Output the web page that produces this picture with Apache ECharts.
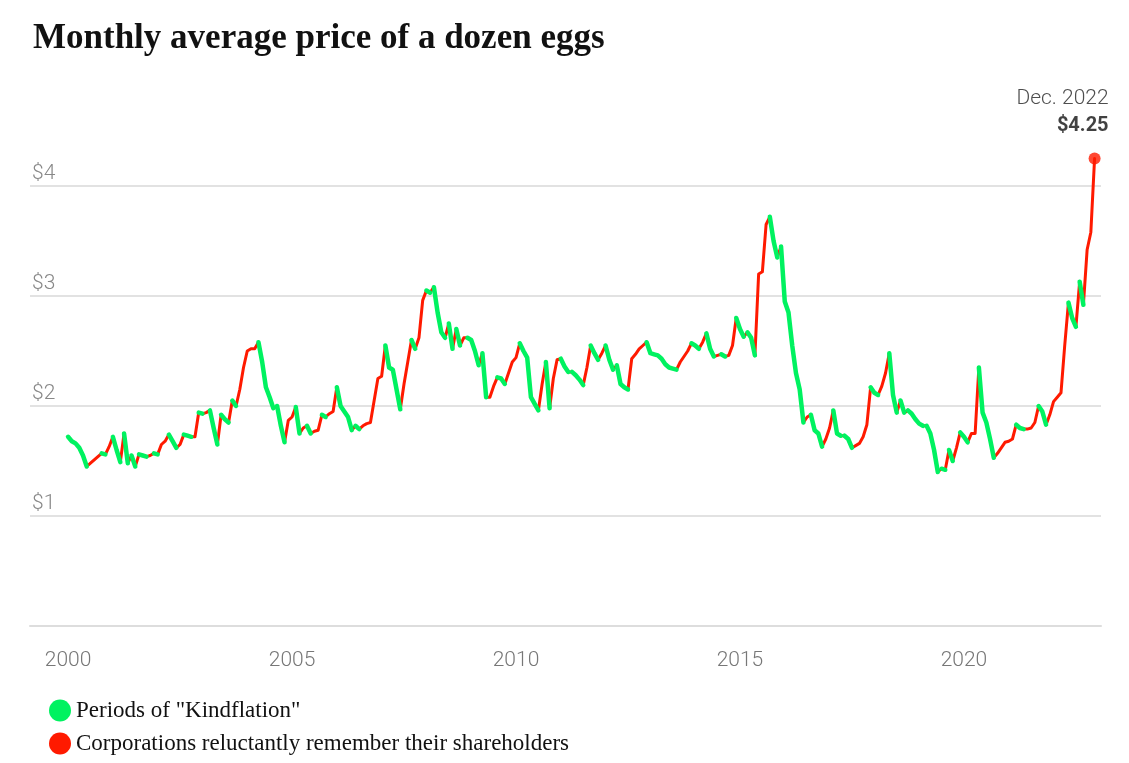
<!DOCTYPE html>
<html>
<head>
<meta charset="utf-8">
<script src="https://cdn.jsdelivr.net/npm/echarts@6/dist/echarts.min.js"></script>
<style>
  html, body { margin: 0; padding: 0; background: #fff; }
  #chart { width: 1129px; height: 763px; }
</style>
</head>
<body>
<div id="chart"></div>
<script>
// monthly prices, Jan..Dec of each year
const startYear = 2000;
const prices = [
  1.72,1.68,1.66,1.62,1.55,1.45,1.48,1.51,1.54,1.57,1.56,1.63, // 2000
  1.72,1.60,1.49,1.75,1.48,1.55,1.45,1.56,1.55,1.54,1.55,1.57, // 2001
  1.56,1.65,1.68,1.74,1.68,1.62,1.65,1.74,1.73,1.72,1.72,1.94, // 2002
  1.93,1.94,1.96,1.80,1.65,1.92,1.88,1.85,2.05,2.00,2.15,2.35, // 2003
  2.50,2.52,2.52,2.58,2.40,2.17,2.08,1.98,2.00,1.82,1.67,1.87, // 2004
  1.90,1.99,1.75,1.80,1.82,1.75,1.77,1.78,1.92,1.90,1.93,1.95, // 2005
  2.17,2.00,1.95,1.90,1.78,1.82,1.79,1.82,1.84,1.85,2.05,2.25, // 2006
  2.27,2.55,2.35,2.33,2.15,1.97,2.20,2.40,2.60,2.52,2.62,2.96, // 2007
  3.05,3.03,3.08,2.85,2.67,2.62,2.75,2.52,2.70,2.55,2.62,2.62, // 2008
  2.60,2.50,2.37,2.48,2.08,2.08,2.18,2.26,2.25,2.20,2.30,2.40, // 2009
  2.44,2.57,2.50,2.44,2.08,2.02,1.96,2.20,2.40,1.98,2.25,2.42, // 2010
  2.43,2.36,2.31,2.31,2.28,2.24,2.19,2.35,2.55,2.48,2.42,2.48, // 2011
  2.55,2.42,2.33,2.37,2.20,2.17,2.15,2.43,2.47,2.52,2.55,2.58, // 2012
  2.48,2.47,2.46,2.43,2.38,2.35,2.34,2.33,2.40,2.45,2.50,2.57, // 2013
  2.55,2.52,2.58,2.66,2.52,2.45,2.46,2.47,2.45,2.46,2.55,2.80, // 2014
  2.70,2.63,2.67,2.62,2.46,3.20,3.22,3.65,3.72,3.50,3.35,3.45, // 2015
  2.95,2.85,2.55,2.30,2.15,1.85,1.90,1.92,1.78,1.75,1.63,1.70, // 2016
  1.80,1.96,1.75,1.73,1.73,1.70,1.62,1.64,1.66,1.72,1.83,2.17, // 2017
  2.12,2.10,2.18,2.30,2.48,2.10,1.94,2.05,1.94,1.96,1.93,1.88, // 2018
  1.84,1.82,1.82,1.75,1.60,1.40,1.43,1.42,1.60,1.50,1.62,1.76, // 2019
  1.72,1.67,1.75,1.75,2.35,1.94,1.85,1.70,1.53,1.57,1.62,1.67, // 2020
  1.68,1.70,1.83,1.80,1.79,1.79,1.80,1.85,2.00,1.95,1.83,1.92, // 2021
  2.04,2.08,2.12,2.55,2.94,2.80,2.72,3.13,2.92,3.42,3.58,4.25  // 2022
];
const yearTicks = [2000, 2005, 2010, 2015, 2020];
const priceTicks = [0, 1, 2, 3, 4];
const legendNames = ['Periods of "Kindflation"', 'Corporations reluctantly remember their shareholders'];
const GREEN = '#00f260', RED = '#ff1a00';

// split the line into runs of falling (green) and rising (red) months
const runSeries = [];
let run = null;
for (let i = 1; i < prices.length; i++) {
  const down = prices[i] < prices[i - 1];
  if (!run || run.down !== down) {
    run = { down: down, data: [[startYear + (i - 1) / 12, prices[i - 1]]] };
    runSeries.push(run);
  }
  run.data.push([startYear + i / 12, prices[i]]);
}
const last = prices.length - 1;

const series = runSeries.map(r => ({
  type: 'line',
  data: r.data,
  symbol: 'none',
  silent: true,
  clip: false,
  z: r.down ? 3 : 2,
  lineStyle: { color: r.down ? GREEN : RED, width: r.down ? 4.5 : 3, cap: 'round', join: 'round' }
}));
// legend-only series
series.push({ name: legendNames[0], type: 'line', data: [], itemStyle: { color: GREEN } });
series.push({ name: legendNames[1], type: 'line', data: [], itemStyle: { color: RED } });
// end point with annotation
series.push({
  type: 'scatter',
  data: [[startYear + last / 12, prices[last]]],
  symbolSize: 12,
  clip: false,
  itemStyle: { color: RED },
  z: 5,
  label: {
    show: true,
    position: 'top',
    align: 'right',
    offset: [14, -8],
    formatter: p => '{a|Dec. 2022}\n{b|$' + p.value[1].toFixed(2) + '}',
    rich: {
      a: { fontFamily: 'Roboto', fontWeight: 300, fontSize: 21, color: '#222', align: 'right', lineHeight: 27 },
      b: { fontFamily: 'Roboto', fontWeight: 'bold', fontSize: 20, color: '#111', align: 'right', lineHeight: 27 }
    }
  }
});

const chart = echarts.init(document.getElementById('chart'));
chart.setOption({
  backgroundColor: '#fff',
  animation: false,
  title: {
    text: 'Monthly average price of a dozen eggs',
    left: 28,
    top: 16,
    textStyle: { fontFamily: 'Liberation Serif', fontWeight: 'bold', fontSize: 35, color: '#111' }
  },
  legend: {
    data: legendNames,
    orient: 'vertical',
    left: 44,
    top: 694,
    icon: 'circle',
    itemWidth: 22,
    itemHeight: 22,
    itemGap: 10,
    textStyle: { fontFamily: 'Liberation Serif', fontSize: 23, color: '#111' }
  },
  grid: { left: 30, right: 28, top: 186, bottom: 137 },
  xAxis: {
    type: 'value',
    min: 1999.15,
    max: 2023.06,
    axisLine: { show: true, lineStyle: { color: '#ddd', width: 2 } },
    axisTick: { show: false },
    splitLine: { show: false },
    axisLabel: {
      customValues: yearTicks,
      formatter: v => String(v),
      margin: 24,
      fontFamily: 'Roboto',
      fontWeight: 300,
      fontSize: 21,
      color: '#777'
    }
  },
  yAxis: {
    type: 'value',
    min: 0,
    max: 4,
    interval: 1,
    axisLine: { show: false },
    axisTick: { show: false },
    splitLine: { lineStyle: { color: '#e2e2e2', width: 2 } },
    axisLabel: {
      inside: true,
      verticalAlign: 'bottom',
      margin: 2,
      padding: [0, 0, 2, 0],
      formatter: v => (v === 0 || priceTicks.indexOf(v) < 0) ? '' : '$' + v,
      fontFamily: 'Roboto',
      fontWeight: 300,
      fontSize: 21,
      color: '#888'
    }
  },
  series: series
});
</script>
</body>
</html>
